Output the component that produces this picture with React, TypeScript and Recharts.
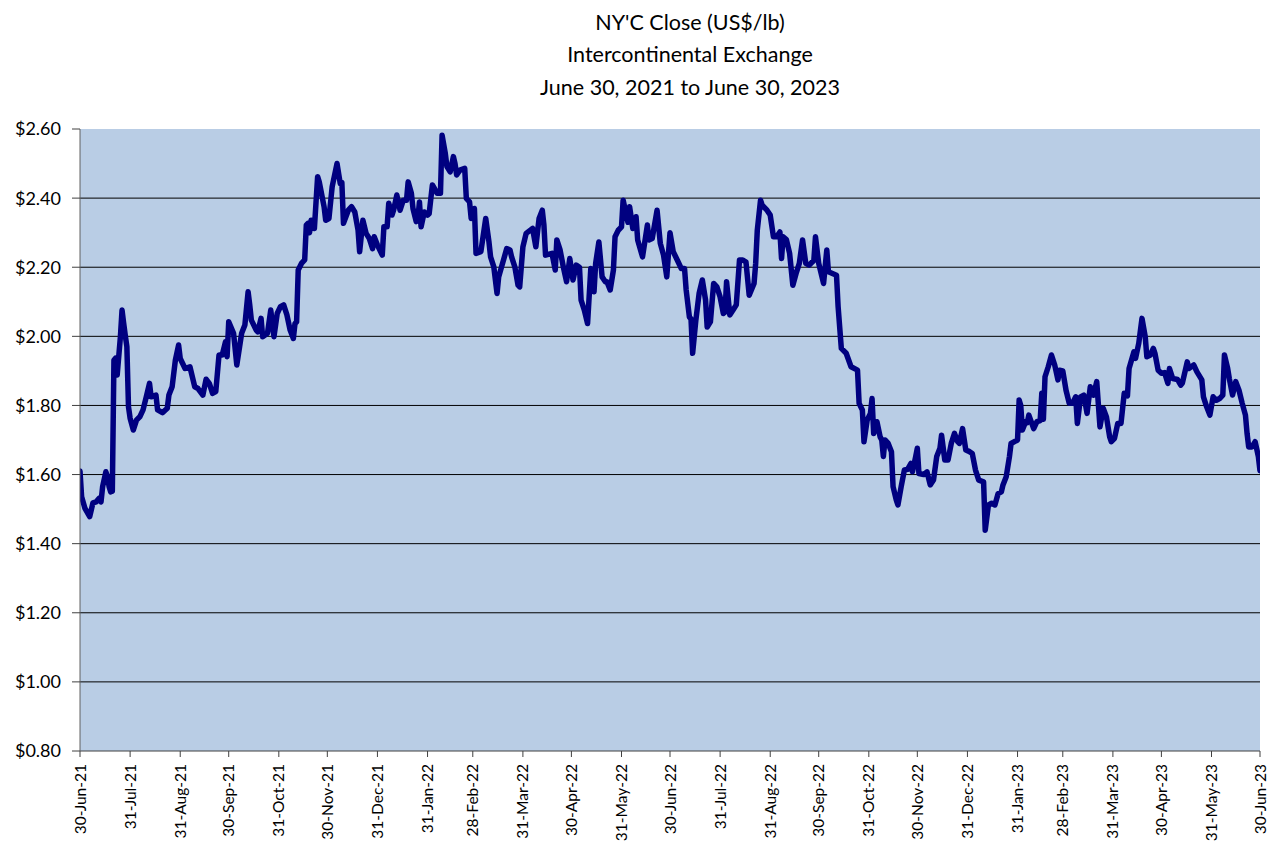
import React from "react";
import { LineChart, Line, XAxis, YAxis, ReferenceLine, ReferenceArea } from "recharts";

// Day offsets counted from 30-Jun-2021
const days: number[] = [
  0, 1, 3, 6, 8, 10, 12, 13, 14, 16, 17, 18, 19, 20, 21, 22, 23, 25, 26, 27, 28, 29, 30, 31, 33, 35, 37, 39, 41, 43,
  44, 47, 48, 51, 54, 55, 57, 59, 61, 62, 65, 68, 71, 73, 76, 78, 80, 82, 84, 86, 88, 90, 91, 92, 95, 97, 100, 102, 104, 105,
  106, 109, 110, 112, 113, 116, 118, 120, 122, 124, 126, 128, 130, 132, 133, 134, 135, 137, 139, 140, 141, 142, 143, 145, 147, 148, 151, 152, 154, 156,
  159, 161, 162, 163, 166, 168, 170, 172, 173, 175, 177, 179, 181, 182, 184, 187, 188, 190, 191, 193, 194, 196, 198, 200, 202, 203, 205, 206, 208, 209,
  210, 211, 213, 215, 216, 218, 221, 223, 224, 226, 227, 229, 231, 232, 233, 235, 238, 239, 241, 242, 244, 245, 248, 251, 253, 254, 256, 258, 259, 262,
  264, 266, 267, 269, 271, 272, 274, 276, 280, 282, 284, 286, 287, 288, 292, 294, 295, 297, 299, 301, 303, 305, 307, 309, 310, 312, 314, 316, 318, 319,
  321, 323, 325, 326, 328, 330, 331, 333, 335, 336, 338, 339, 340, 342, 344, 345, 348, 351, 352, 354, 357, 359, 361, 363, 365, 367, 370, 372, 374, 375,
  377, 378, 379, 381, 383, 385, 387, 388, 390, 392, 394, 396, 398, 399, 400, 402, 404, 406, 408, 410, 412, 414, 417, 418, 419, 421, 422, 425, 427, 429,
  431, 433, 434, 435, 437, 439, 441, 443, 445, 447, 449, 451, 453, 454, 455, 457, 460, 462, 463, 468, 469, 471, 474, 477, 481, 482, 484, 485, 487, 489,
  490, 491, 493, 495, 496, 497, 498, 500, 502, 503, 505, 506, 508, 510, 512, 514, 515, 517, 518, 519, 522, 524, 526, 528, 530, 532, 533, 535, 537, 539,
  541, 543, 544, 546, 548, 550, 552, 554, 556, 559, 560, 562, 564, 566, 568, 570, 571, 573, 575, 576, 580, 581, 582, 583, 585, 586, 587, 590, 592, 594,
  595, 596, 597, 599, 601, 603, 605, 606, 608, 610, 612, 614, 616, 617, 619, 621, 623, 625, 627, 629, 631, 633, 635, 637, 638, 640, 642, 644, 646, 648,
  649, 652, 653, 655, 657, 659, 660, 662, 664, 665, 667, 669, 671, 673, 674, 676, 679, 681, 682, 685, 686, 689, 691, 694, 695, 697, 699, 701, 703, 705,
  707, 708, 710, 711, 713, 715, 717, 719, 721, 722, 723, 725, 727, 729, 730,
];

const closes: number[] = [
  1.61, 1.536, 1.503, 1.478, 1.518, 1.521, 1.532, 1.521, 1.565, 1.608, 1.594, 1.565, 1.55, 1.552, 1.931, 1.937, 1.888, 1.999, 2.076, 2.038, 2.003, 1.97, 1.796, 1.763, 1.729, 1.758, 1.767, 1.787, 1.825, 1.864,
  1.825, 1.83, 1.787, 1.779, 1.792, 1.83, 1.854, 1.931, 1.975, 1.936, 1.907, 1.912, 1.854, 1.849, 1.83, 1.876, 1.864, 1.835, 1.84, 1.946, 1.946, 1.984, 1.941, 2.042, 2.009, 1.917, 2.009, 2.033, 2.129, 2.091,
  2.047, 2.018, 2.013, 2.052, 1.999, 2.009, 2.076, 1.999, 2.066, 2.086, 2.091, 2.062, 2.018, 1.994, 2.037, 2.042, 2.192, 2.211, 2.221, 2.322, 2.327, 2.3, 2.336, 2.312, 2.462, 2.447, 2.375, 2.336, 2.341, 2.433,
  2.5, 2.442, 2.445, 2.327, 2.365, 2.375, 2.36, 2.308, 2.245, 2.336, 2.298, 2.283, 2.254, 2.288, 2.264, 2.235, 2.317, 2.317, 2.385, 2.351, 2.365, 2.409, 2.365, 2.394, 2.394, 2.447, 2.414, 2.37, 2.332, 2.34,
  2.389, 2.317, 2.36, 2.351, 2.355, 2.438, 2.414, 2.414, 2.582, 2.529, 2.491, 2.476, 2.52, 2.5, 2.467, 2.481, 2.486, 2.399, 2.389, 2.341, 2.37, 2.24, 2.245, 2.341, 2.273, 2.23, 2.201, 2.124, 2.172, 2.221,
  2.254, 2.25, 2.23, 2.201, 2.148, 2.143, 2.259, 2.298, 2.312, 2.259, 2.341, 2.365, 2.322, 2.235, 2.24, 2.192, 2.279, 2.25, 2.201, 2.158, 2.225, 2.163, 2.206, 2.2, 2.105, 2.076, 2.037, 2.196, 2.129, 2.211,
  2.273, 2.172, 2.158, 2.158, 2.134, 2.192, 2.288, 2.307, 2.317, 2.394, 2.351, 2.33, 2.375, 2.312, 2.346, 2.279, 2.23, 2.322, 2.279, 2.283, 2.365, 2.269, 2.235, 2.172, 2.3, 2.245, 2.216, 2.196, 2.196, 2.134,
  2.056, 2.05, 1.951, 2.047, 2.124, 2.163, 2.105, 2.027, 2.042, 2.153, 2.143, 2.114, 2.066, 2.07, 2.158, 2.062, 2.076, 2.091, 2.221, 2.221, 2.215, 2.119, 2.153, 2.211, 2.307, 2.394, 2.38, 2.365, 2.351, 2.288,
  2.288, 2.302, 2.225, 2.288, 2.28, 2.24, 2.148, 2.182, 2.211, 2.279, 2.211, 2.206, 2.215, 2.22, 2.288, 2.211, 2.153, 2.25, 2.187, 2.177, 2.086, 1.965, 1.951, 1.912, 1.902, 1.806, 1.787, 1.695, 1.758, 1.777,
  1.82, 1.719, 1.753, 1.709, 1.7, 1.652, 1.7, 1.69, 1.666, 1.565, 1.526, 1.512, 1.565, 1.613, 1.615, 1.632, 1.608, 1.652, 1.676, 1.603, 1.6, 1.608, 1.57, 1.584, 1.652, 1.676, 1.714, 1.642, 1.642, 1.69,
  1.719, 1.695, 1.69, 1.733, 1.671, 1.667, 1.661, 1.613, 1.584, 1.579, 1.439, 1.512, 1.517, 1.512, 1.545, 1.55, 1.57, 1.594, 1.652, 1.69, 1.7, 1.816, 1.8, 1.729, 1.753, 1.75, 1.772, 1.733, 1.753, 1.756,
  1.835, 1.76, 1.883, 1.912, 1.946, 1.917, 1.874, 1.902, 1.9, 1.844, 1.806, 1.806, 1.825, 1.748, 1.825, 1.83, 1.777, 1.854, 1.83, 1.869, 1.738, 1.792, 1.767, 1.709, 1.695, 1.705, 1.748, 1.748, 1.835, 1.828,
  1.907, 1.955, 1.936, 1.98, 2.052, 1.999, 1.941, 1.945, 1.965, 1.951, 1.902, 1.893, 1.895, 1.864, 1.907, 1.878, 1.875, 1.859, 1.865, 1.926, 1.907, 1.917, 1.897, 1.874, 1.825, 1.796, 1.772, 1.825, 1.815, 1.82,
  1.83, 1.946, 1.907, 1.878, 1.83, 1.869, 1.844, 1.806, 1.772, 1.719, 1.68, 1.68, 1.695, 1.652, 1.611,
];

// Month-end ticks (day offsets) and their labels
const tickDays: number[] = [
  0, 31, 62, 92, 123, 153, 184, 215, 243, 274, 304, 335, 365, 396, 427, 457, 488, 518, 549, 580, 608, 639, 669, 700, 730,
];
const tickLabels: string[] = [
  "30-Jun-21", "31-Jul-21", "31-Aug-21", "30-Sep-21", "31-Oct-21", "30-Nov-21", "31-Dec-21", "31-Jan-22", "28-Feb-22",
  "31-Mar-22", "30-Apr-22", "31-May-22", "30-Jun-22", "31-Jul-22", "31-Aug-22", "30-Sep-22", "31-Oct-22", "30-Nov-22",
  "31-Dec-22", "31-Jan-23", "28-Feb-23", "31-Mar-23", "30-Apr-23", "31-May-23", "30-Jun-23",
];

const yTicks: number[] = [0.8, 1.0, 1.2, 1.4, 1.6, 1.8, 2.0, 2.2, 2.4, 2.6];
const gridValues: number[] = [1.0, 1.2, 1.4, 1.6, 1.8, 2.0, 2.2, 2.4];

const titleLines: string[] = ["NY'C Close (US$/lb)", "Intercontinental Exchange", "June 30, 2021 to June 30, 2023"];

const data = days.map((d, i) => ({ day: d, close: closes[i] }));

const FONT = "Lato, 'Open Sans', sans-serif";

const XTick = (props: any) => {
  const { x, y, payload } = props;
  const idx = tickDays.indexOf(payload.value);
  const label = idx >= 0 ? tickLabels[idx] : "";
  return (
    <text
      transform={`translate(${x},${y + 5}) rotate(-90)`}
      textAnchor="end"
      dy="0.36em"
      fontSize={15.5}
      fontFamily={FONT}
      fill="#000"
    >
      {label}
    </text>
  );
};

export default function App() {
  return (
    <div style={{ position: "absolute", left: 0, top: 0, width: 1268, height: 846, background: "#fff" }}>
      <LineChart
        width={1268}
        height={846}
        data={data}
        margin={{ top: 129, right: 8, bottom: 0, left: 0 }}
      >
        <ReferenceArea x1={0} x2={730} y1={0.8} y2={2.6} fill="#B9CDE5" fillOpacity={1} stroke="none" ifOverflow="hidden" />
        {gridValues.map((g) => (
          <ReferenceLine key={g} y={g} stroke="#000" strokeWidth={1} />
        ))}
        <XAxis
          dataKey="day"
          type="number"
          domain={[0, 730]}
          ticks={tickDays}
          interval={0}
          height={95}
          tick={<XTick />}
          tickSize={6}
          axisLine={{ stroke: "#404040" }}
          tickLine={{ stroke: "#404040" }}
          allowDataOverflow
        />
        <YAxis
          type="number"
          domain={[0.8, 2.6]}
          ticks={yTicks}
          interval={0}
          width={80}
          tickSize={8}
          tickMargin={11}
          tickFormatter={(v: number) => `$${v.toFixed(2)}`}
          tick={{ fill: "#000", fontSize: 18, fontFamily: FONT }}
          axisLine={{ stroke: "#606060" }}
          tickLine={{ stroke: "#404040" }}
          allowDataOverflow
        />
        <Line
          type="linear"
          dataKey="close"
          stroke="#000080"
          strokeWidth={5.5}
          strokeLinejoin="round"
          strokeLinecap="round"
          dot={false}
          activeDot={false}
          isAnimationActive={false}
        />
      </LineChart>
      <svg
        width={1268}
        height={110}
        style={{ position: "absolute", left: 0, top: 0, pointerEvents: "none" }}
      >
        {titleLines.map((t, i) => (
          <text key={i} x={690} y={30 + i * 32.3} textAnchor="middle" fontSize={21.5} fontFamily={FONT} fill="#000">
            {t}
          </text>
        ))}
      </svg>
    </div>
  );
}
